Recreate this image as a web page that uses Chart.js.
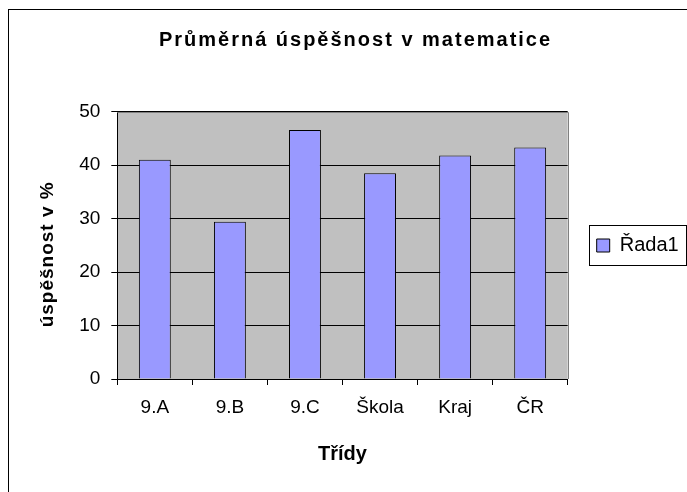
<!DOCTYPE html>
<html>
<head>
<meta charset="utf-8">
<script src="https://cdn.jsdelivr.net/npm/chart.js@4/dist/chart.umd.min.js"></script>
<style>
html,body{margin:0;padding:0;background:#fff;}
#wrap{width:687px;height:492px;position:relative;}
</style>
</head>
<body>
<div id="wrap"><canvas id="c" width="687" height="492"></canvas></div>
<script>
const categories = ["9.A", "9.B", "9.C", "Škola", "Kraj", "ČR"];
const values = [41.0, 29.4, 46.6, 38.5, 41.8, 43.3];
const yTicks = [0, 10, 20, 30, 40, 50];
const seriesName = "Řada1";

const FONT = "'Liberation Sans', Arial, sans-serif";

function withSpacing(obj, method, sp, dy) {
  if (!obj || obj['__sp_' + method]) return;
  const orig = obj[method];
  obj[method] = function(...args) {
    const ctx = this.ctx;
    ctx.save();
    if (dy) ctx.translate(0, dy);
    ctx.letterSpacing = sp;
    try { return orig.apply(this, args); }
    finally { ctx.restore(); }
  };
  obj['__sp_' + method] = true;
}

const framePlugin = {
  id: 'frame',
  afterLayout(chart) {
    const lg = chart.legend;
    if (lg) { lg.top += 8; lg.bottom += 8; }
  },
  beforeDraw(chart) {
    withSpacing(chart.titleBlock, 'draw', '2px', 0);
    withSpacing(chart.scales.y, 'drawTitle', '1px', 9);
    const ctx = chart.ctx;
    const a = chart.chartArea;
    ctx.save();
    ctx.fillStyle = '#fff';
    ctx.fillRect(0, 0, chart.width, chart.height);
    ctx.strokeStyle = '#000';
    ctx.lineWidth = 1;
    ctx.strokeRect(8.5, 9.5, 720, 520);
    ctx.fillStyle = '#C0C0C0';
    ctx.fillRect(a.left, a.top, a.right - a.left, a.bottom - a.top);
    ctx.restore();
  },
  afterDatasetsDraw(chart) {
    const ctx = chart.ctx;
    const a = chart.chartArea;
    ctx.save();
    ctx.strokeStyle = '#808080';
    ctx.lineWidth = 1;
    ctx.beginPath();
    ctx.moveTo(a.left, Math.round(a.top) + 0.5);
    ctx.lineTo(Math.round(a.right) + 0.5, Math.round(a.top) + 0.5);
    ctx.lineTo(Math.round(a.right) + 0.5, a.bottom);
    ctx.stroke();
    ctx.restore();
  },
  afterDraw(chart) {
    const lg = chart.legend;
    if (!lg || !lg.legendHitBoxes || !lg.legendHitBoxes.length) return;
    const ctx = chart.ctx;
    ctx.save();
    ctx.strokeStyle = '#000';
    ctx.lineWidth = 1;
    ctx.strokeRect(589.5, 225.5, 97, 40);
    ctx.restore();
  }
};

const legendWidthPlugin = {
  id: 'legendWidth',
  beforeInit(chart) {
    const lg = chart.legend;
    const orig = lg.fit;
    lg.fit = function() {
      orig.call(this);
      this.width = 119.3;
    };
  }
};

new Chart(document.getElementById('c'), {
  type: 'bar',
  data: {
    labels: categories,
    datasets: [{
      label: seriesName,
      data: values,
      backgroundColor: '#9999FF',
      borderColor: '#000000',
      borderWidth: 1,
      barPercentage: 0.425,
      categoryPercentage: 1.0
    }]
  },
  plugins: [framePlugin, legendWidthPlugin],
  options: {
    responsive: false,
    animation: false,
    devicePixelRatio: 1,
    layout: { padding: { left: 24, top: 9, right: 0, bottom: 26 } },
    plugins: {
      title: {
        display: true,
        text: 'Průměrná úspěšnost v matematice',
        color: '#000',
        font: { family: FONT, size: 20, weight: 'bold' },
        padding: { top: 19, bottom: 59.7 }
      },
      legend: {
        display: true,
        position: 'right',
        labels: {
          color: '#000',
          font: { family: FONT, size: 20 },
          boxWidth: 13,
          boxHeight: 13,
          padding: 29
        }
      },
      tooltip: { enabled: false }
    },
    scales: {
      x: {
        offset: true,
        grid: {
          display: true,
          offset: true,
          drawOnChartArea: false,
          drawTicks: true,
          tickLength: 6,
          color: '#000'
        },
        border: { display: true, color: '#000', width: 1 },
        ticks: {
          color: '#000',
          font: { family: FONT, size: 19 },
          padding: 11,
          maxRotation: 0
        },
        title: {
          display: true,
          text: 'Třídy',
          color: '#000',
          font: { family: FONT, size: 20, weight: 'bold' },
          padding: { top: 20, bottom: 0 }
        },
        afterFit(scale) { scale.height = 492 - 26 - 379; }
      },
      y: {
        min: 0,
        max: 50,
        afterBuildTicks(scale) { scale.ticks = yTicks.map(v => ({ value: v })); },
        grid: {
          display: true,
          drawOnChartArea: true,
          drawTicks: true,
          tickLength: 6,
          color: '#000'
        },
        border: { display: true, color: '#000', width: 1 },
        ticks: {
          color: '#000',
          font: { family: FONT, size: 19 },
          padding: 11
        },
        title: {
          display: true,
          text: 'úspěšnost v %',
          color: '#000',
          font: { family: FONT, size: 19, weight: 'bold' },
          padding: { top: 12, bottom: 0 }
        },
        afterFit(scale) { scale.width = 117.3 - 24; }
      }
    }
  }
});
</script>
</body>
</html>
